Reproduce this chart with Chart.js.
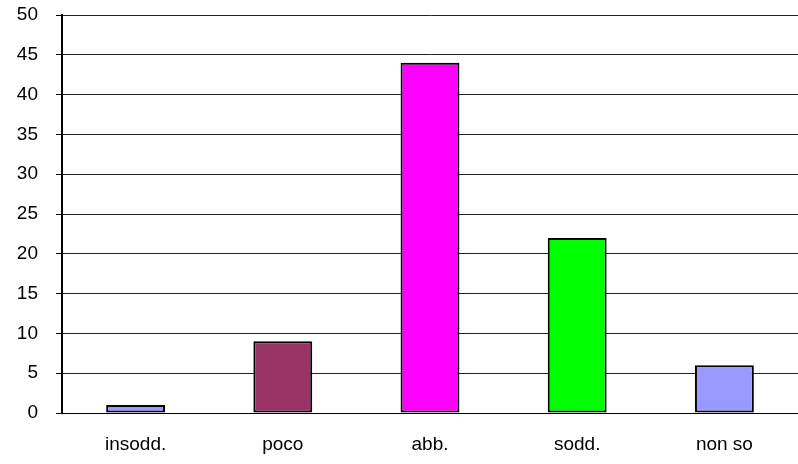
<!DOCTYPE html>
<html>
<head>
<meta charset="utf-8">
<script src="https://cdn.jsdelivr.net/npm/chart.js@4/dist/chart.umd.min.js"></script>
<style>
html,body{margin:0;padding:0;background:#fff;}
#wrap{width:798px;height:464px;}
</style>
</head>
<body>
<div id="wrap"><canvas id="c" width="798" height="464"></canvas></div>
<script>
const categories = ["insodd.", "poco", "abb.", "sodd.", "non so"];
const values = [1, 9, 44, 22, 6];
const barColors = ["#9999FF", "#993366", "#FF00FF", "#00FF00", "#9999FF"];
const yMin = 0, yMax = 50, yStep = 5;

new Chart(document.getElementById('c'), {
  type: 'bar',
  data: {
    labels: categories,
    datasets: [{
      data: values,
      backgroundColor: barColors,
      borderColor: '#000',
      borderWidth: 2,
      borderSkipped: false,
      categoryPercentage: 1,
      barPercentage: 0.4
    }]
  },
  options: {
    responsive: false,
    animation: false,
    devicePixelRatio: 1,
    layout: { padding: { top: 15, right: 0, left: 0, bottom: 0 } },
    plugins: { legend: { display: false }, tooltip: { enabled: false } },
    scales: {
      x: {
        grid: { display: false, drawTicks: false },
        border: { color: '#000', width: 1 },
        ticks: { color: '#000', font: { family: 'Liberation Sans, Arial', size: 19 }, padding: 20, maxRotation: 0 },
        afterFit: s => { s.height = 51; s.paddingLeft = 0; s.paddingRight = 0; }
      },
      y: {
        min: yMin, max: yMax,
        grid: { color: '#222', lineWidth: 1, tickLength: 6, tickColor: '#000' },
        border: { color: '#000', width: 2 },
        ticks: { stepSize: yStep, color: '#000', font: { family: 'Liberation Sans, Arial', size: 19 }, padding: 18 },
        afterFit: s => { s.width = 62; s.paddingTop = 0; s.paddingBottom = 0; }
      }
    }
  }
});
</script>
</body>
</html>
